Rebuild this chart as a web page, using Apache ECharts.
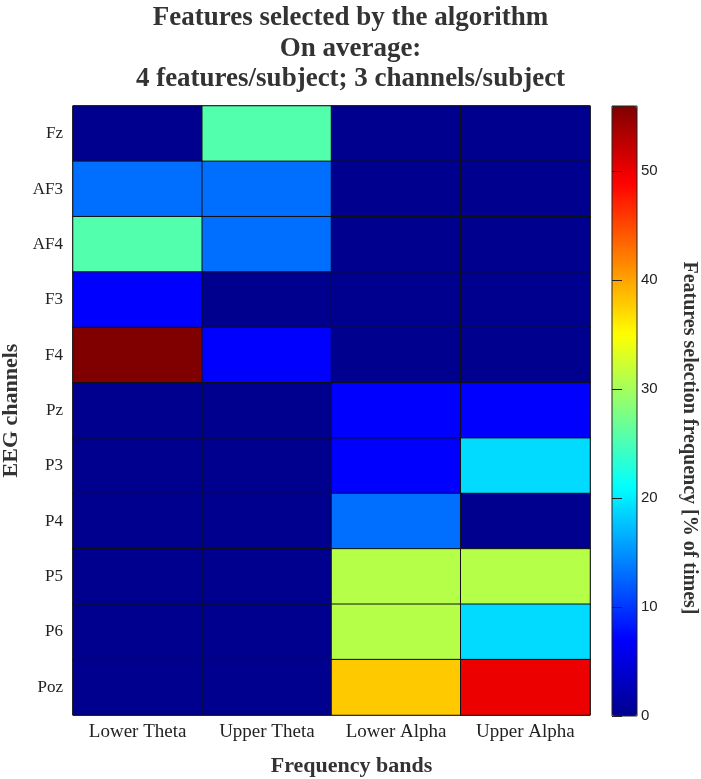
<!DOCTYPE html>
<html>
<head>
<meta charset="utf-8">
<script src="https://cdn.jsdelivr.net/npm/echarts@6/dist/echarts.min.js"></script>
<style>
  html, body { margin: 0; padding: 0; background: #fff; }
  #chart { width: 701px; height: 779px; }
</style>
</head>
<body>
<div id="chart"></div>
<script>
const bands = ['Lower Theta', 'Upper Theta', 'Lower Alpha', 'Upper Alpha']
const channels = ['Fz', 'AF3', 'AF4', 'F3', 'F4', 'Pz', 'P3', 'P4', 'P5', 'P6', 'Poz']
// one row per channel, columns follow bands
const freq = [
  [0, 25.5, 0, 0],
  [13, 13, 0, 0],
  [25.5, 13, 0, 0],
  [7, 0, 0, 0],
  [56, 7, 0, 0],
  [0, 0, 7, 7],
  [0, 0, 7, 19],
  [0, 0, 13, 0],
  [0, 0, 31, 31],
  [0, 0, 31, 19],
  [0, 0, 38, 50],
]
const barTicks = [0, 10, 20, 30, 40, 50]
const jet = ['#00008f', '#0000ff', '#0080ff', '#00ffff', '#80ff80', '#ffff00', '#ff8000', '#ff0000', '#800000']

const serif = 'Liberation Serif'
const cells = []
freq.forEach((row, i) => row.forEach((v, j) => cells.push([j, i, v])))

const chart = echarts.init(document.getElementById('chart'))

// colorbar ticks sit just inside the bar on both edges
const barTick = { show: true, inside: false, length: 5, lineStyle: { color: '#222' } }

chart.setOption({
  animation: false,
  title: {
    text: 'Features selected by the algorithm\nOn average:\n4 features/subject; 3 channels/subject',
    left: 'center',
    top: -2,
    textStyle: { fontFamily: serif, fontWeight: 'bold', fontSize: 27, lineHeight: 30.5, color: '#333' },
  },
  grid: [
    { left: 73, top: 106, width: 517, height: 609, show: true, borderColor: '#000', borderWidth: 1, backgroundColor: 'transparent', outerBoundsMode: 'none', containLabel: false },
    { left: 612, top: 106, width: 25, height: 610, show: true, borderColor: '#222', borderWidth: 1, backgroundColor: 'transparent', z: 10, zlevel: 1, outerBoundsMode: 'none', containLabel: false },
  ],
  xAxis: [
    {
      type: 'category', data: bands, gridIndex: 0,
      name: 'Frequency bands', nameLocation: 'middle', nameGap: 40,
      nameTextStyle: { fontFamily: serif, fontWeight: 'bold', fontSize: 22, color: '#333', padding: [0, 0, 0, 40] },
      axisLine: { show: false }, axisTick: { show: false }, splitLine: { show: false },
      axisLabel: { fontFamily: serif, fontSize: 19, color: '#222', margin: 8, interval: 0 },
    },
    { type: 'value', gridIndex: 1, show: false, min: 0, max: 1 },
  ],
  yAxis: [
    {
      type: 'category', data: channels, inverse: true, gridIndex: 0,
      name: 'EEG channels', nameLocation: 'middle', nameGap: 50,
      nameTextStyle: { fontFamily: serif, fontWeight: 'bold', fontSize: 22, color: '#333' },
      axisLine: { show: false }, axisTick: { show: false }, splitLine: { show: false },
      axisLabel: { fontFamily: serif, fontSize: 17, color: '#222', margin: 10, interval: 0 },
    },
    {
      type: 'value', gridIndex: 1, position: 'right', offset: -5, min: 0, max: 56, interval: 10, zlevel: 1,
      name: 'Features selection frequency [% of times]', nameLocation: 'middle', nameGap: 47, nameRotate: -90,
      nameTextStyle: { fontFamily: serif, fontWeight: 'bold', fontSize: 20, color: '#333', padding: [0, 0, 0, 54] },
      axisLine: { show: false }, splitLine: { show: false },
      axisTick: barTick,
      axisLabel: {
        fontFamily: 'Liberation Sans', fontSize: 15, color: '#222', margin: 9,
        formatter: (v) => (barTicks.includes(v) ? String(v) : ''),
      },
    },
    {
      type: 'value', gridIndex: 1, position: 'left', offset: -5, min: 0, max: 56, interval: 10, zlevel: 1,
      axisLine: { show: false }, splitLine: { show: false }, axisLabel: { show: false },
      axisTick: barTick,
    },
  ],
  visualMap: {
    type: 'continuous', min: 0, max: 56, seriesIndex: 0, calculable: false,
    left: 612, top: 106, itemWidth: 25, itemHeight: 610, padding: 0,
    text: null, showLabel: false,
    inRange: { color: jet },
  },
  series: [
    {
      type: 'heatmap', xAxisIndex: 0, yAxisIndex: 0, data: cells,
      itemStyle: { borderColor: '#111', borderWidth: 1 },
      emphasis: { disabled: true },
    },
  ],
})
</script>
</body>
</html>
